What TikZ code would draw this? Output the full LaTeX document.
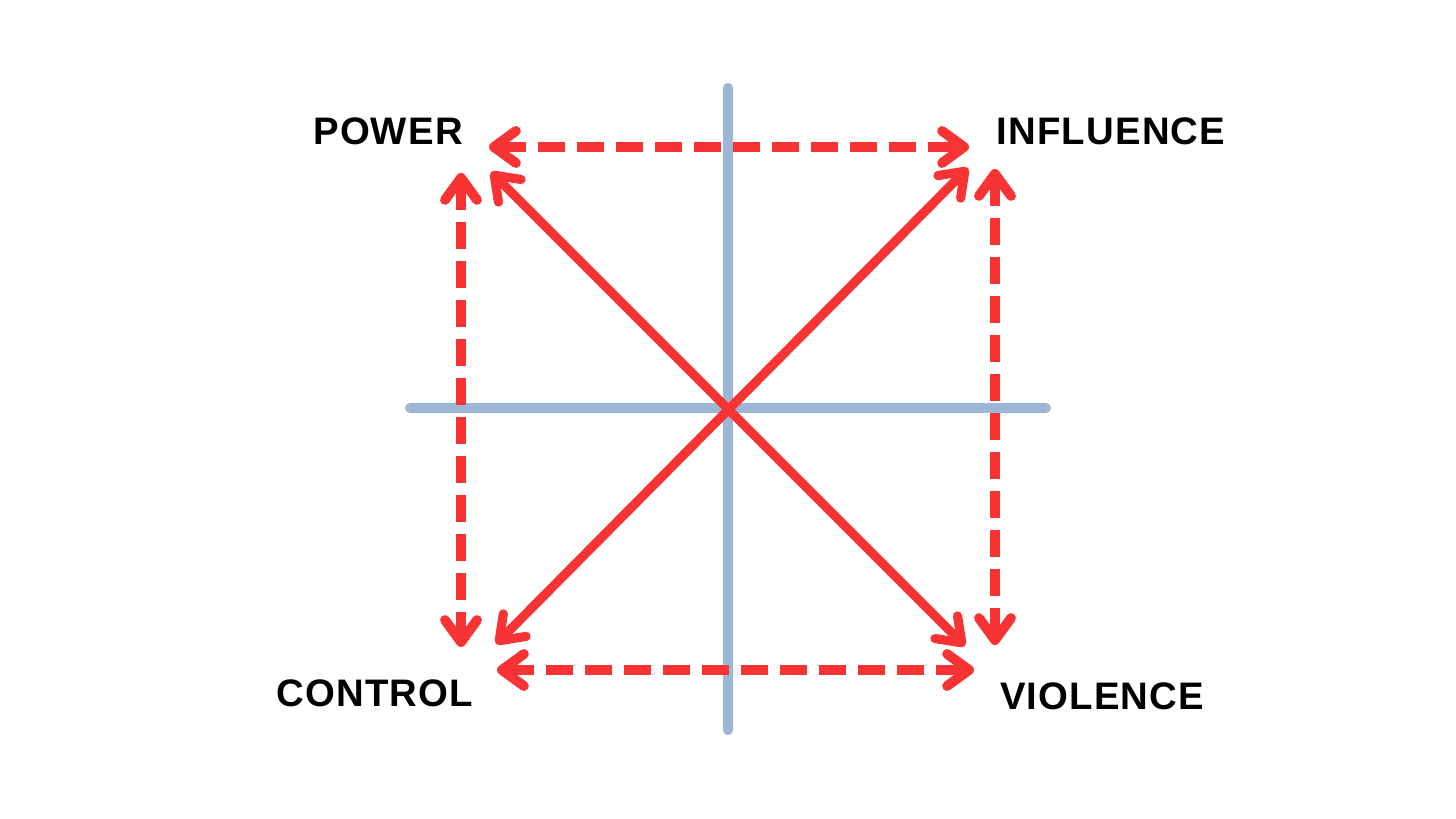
\documentclass[tikz,border=0pt]{standalone}
\usepackage{fontspec}
\setmainfont{Liberation Sans}[LetterSpace=3]
\usetikzlibrary{arrows.meta}

\definecolor{axisblue}{HTML}{9DB6D6}
\definecolor{arrowred}{HTML}{F83333}

\begin{document}
\begin{tikzpicture}[
    x=0.01cm, y=-0.01cm,
    >={Straight Barb[round, length=0.22cm, width=0.32cm]},
    axis/.style={draw=axisblue, line width=2.85pt, line cap=round},
    solidlink/.style={draw=arrowred, line width=2.6pt, <->},
    dashlink/.style={draw=arrowred, line width=2.8pt, dash pattern=on 0.27cm off 0.12cm, <->},
    every node/.style={font=\bfseries\fontsize{10.9}{12}\selectfont, inner sep=0pt}
]
\useasboundingbox (0,0) rectangle (1456,819);

% axes
\coordinate (top) at (728,88);
\coordinate (bottom) at (728,730);
\coordinate (left) at (410,408);
\coordinate (right) at (1046,408);
\draw[axis] (top) -- (bottom);
\draw[axis] (left) -- (right);

% labels
\node (power) at (388,131) {POWER};
\node (influence) at (1111,131) {INFLUENCE};
\node (control) at (375,693) {CONTROL};
\node (violence) at (1102,696) {VIOLENCE};

% arrow ends
\coordinate (pw-e) at (489,147);
\coordinate (in-w) at (969,147);
\coordinate (pw-s) at (461,173);
\coordinate (co-n) at (461,647);
\coordinate (in-s) at (995,169);
\coordinate (vi-n) at (995,645);
\coordinate (co-e) at (497,670);
\coordinate (vi-w) at (974,670);
\coordinate (pw-d) at (491,172);
\coordinate (vi-d) at (965,646);
\coordinate (co-d) at (496,644);
\coordinate (in-d) at (968,168);

% links
\draw[dashlink] (pw-e) -- (in-w);
\draw[dashlink] (pw-s) -- (co-n);
\draw[dashlink] (in-s) -- (vi-n);
\draw[dashlink] (co-e) -- (vi-w);
\draw[solidlink] (pw-d) -- (vi-d);
\draw[solidlink] (co-d) -- (in-d);

\end{tikzpicture}
\end{document}
